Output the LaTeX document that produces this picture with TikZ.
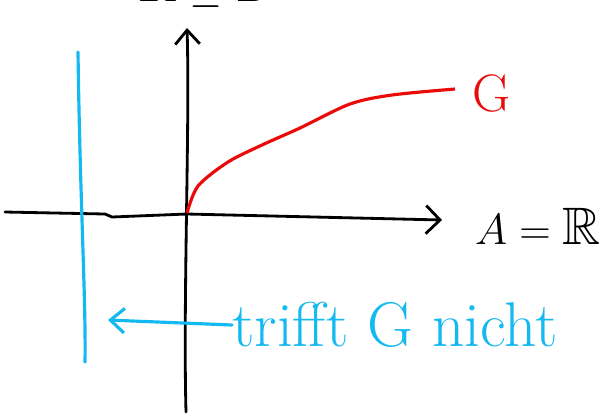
\documentclass[tikz,border=0pt]{standalone}
\usepackage{amssymb}
\usetikzlibrary{arrows.meta}
\definecolor{skyline}{RGB}{20,185,240}
\definecolor{graphred}{RGB}{235,10,10}
\begin{document}
\begin{tikzpicture}[x=0.02cm,y=-0.02cm,
    axis/.style={line width=1.6pt,black,line cap=round},
    hint/.style={line width=1.8pt,skyline,line cap=round},
    hand/.style={font=\fontsize{30}{30}\selectfont,inner sep=0pt}]
            \useasboundingbox (0,0) rectangle (604,417);
            \coordinate (xl) at (5,212);
            \coordinate (xr) at (442,220);
            \coordinate (yb) at (186,412);
            \coordinate (yt) at (187,28);
            \coordinate (O) at (187,214);
            
            % axes
            \draw[axis,-{Straight Barb[length=8pt,width=16pt]}] (xl) -- (105,214) -- (112,217) -- (O) -- (xr);
            \draw[axis,-{Straight Barb[length=8pt,width=14pt]}] (yb) .. controls (183,300) and (190,120) .. (yt);
            \node[hand] (lblA) at (538,226) {$A=\mathbb{R}$};
            \node[hand] (lblB) at (205,-14) {$\mathbb{R}\supseteq B$};
            
            % graph
            \draw[line width=1.8pt,graphred] (O) plot[smooth] coordinates {(187,213) (198,186) (228,162) (262,145) (300,128) (350,104) (392,95) (455,89)};
            \node[hand,text=graphred] (lblG) at (492,93) {G};
            
            % not hit
            \draw[hint] (78,52) .. controls (80,200) and (86,300) .. (85,362);
            \node[hand,font=\fontsize{36}{36}\selectfont,text=skyline,anchor=west] (lblN) at (232,325) {trifft G nicht};
            \draw[hint,-{Straight Barb[length=8pt,width=14pt]}] (lblN.west) -- (108,320);
        \end{tikzpicture}
\end{document}
